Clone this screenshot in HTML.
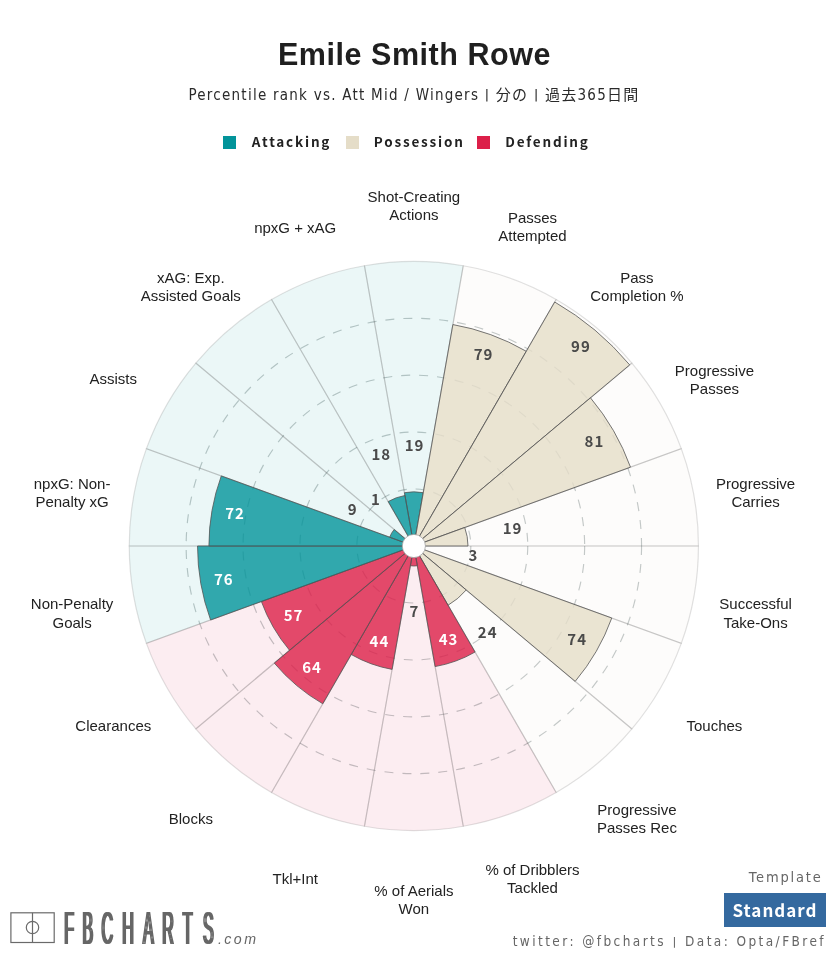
<!DOCTYPE html>
<html lang="en">
<head>
<meta charset="utf-8">
<title>Emile Smith Rowe</title>
<style>
html,body{margin:0;padding:0;background:#fff;}
body{width:831px;height:956px;position:relative;overflow:hidden;font-family:"DejaVu Sans Condensed","Noto Sans CJK JP",sans-serif;color:#222;}
.chart{position:absolute;left:0;top:0;}
.title{position:absolute;left:0;width:829px;top:36px;text-align:center;font:bold 30.5px/36px "Liberation Sans",sans-serif;letter-spacing:0.55px;color:#1f1f1f;white-space:nowrap;}
.sub{position:absolute;left:0;width:828px;top:84.5px;text-align:center;font-size:15px;line-height:20px;letter-spacing:1.25px;color:#2a2a2a;white-space:nowrap;}
.legend{position:absolute;left:0;top:132px;width:831px;height:20px;font-family:"Noto Sans CJK JP","DejaVu Sans Condensed",sans-serif;font-weight:bold;font-size:13.5px;letter-spacing:1.8px;color:#222;}
.legend span.sq{position:absolute;top:3.6px;width:13.2px;height:13.2px;}
.legend span.tx{position:absolute;top:-1.2px;line-height:20px;white-space:nowrap;}
.val text{font:bold 15px "Noto Sans CJK JP","DejaVu Sans Condensed",sans-serif;letter-spacing:1px;}
.cat text{font:15px "Liberation Sans",sans-serif;fill:#222;}
.tmpl{position:absolute;right:8.5px;top:866.8px;font-size:14.5px;letter-spacing:1.8px;color:#666;line-height:20px;white-space:nowrap;}
.std{position:absolute;left:724px;top:893px;width:102px;height:34px;background:#34699f;color:#fff;font-family:"Noto Sans CJK JP","DejaVu Sans Condensed",sans-serif;font-weight:bold;font-size:17px;letter-spacing:1px;line-height:33px;text-align:center;}
.foot{position:absolute;right:5px;top:931px;font-size:13.5px;letter-spacing:2.42px;color:#666;line-height:20px;white-space:nowrap;}
.logo{position:absolute;left:0;top:896px;}
.bar{font-size:0.76em;font-weight:bold;position:relative;top:-1px;padding:0 0.3px;}
</style>
</head>
<body>
<svg class="chart" width="831" height="956" viewBox="0 0 831 956">
<g fill="none" stroke="#a3acac" stroke-opacity="0.68" stroke-width="1.15" stroke-dasharray="9,9">
<path d="M470.85,546.0A57.00,57.00 0 1 1 356.85,546.0A57.00,57.00 0 1 1 470.85,546.0"/>
<path d="M527.75,546.0A113.90,113.90 0 1 1 299.95,546.0A113.90,113.90 0 1 1 527.75,546.0"/>
<path d="M584.65,546.0A170.80,170.80 0 1 1 243.05,546.0A170.80,170.80 0 1 1 584.65,546.0"/>
<path d="M641.55,546.0A227.70,227.70 0 1 1 186.15,546.0A227.70,227.70 0 1 1 641.55,546.0"/>
</g>
<g stroke="#444" stroke-opacity="0.16" stroke-width="1.2">
<path d="M413.85,546.00L364.43,265.72A284.60,284.60 0 0 1 463.27,265.72Z" fill="#02949a" fill-opacity="0.08"/>
<path d="M413.85,546.00L463.27,265.72A284.60,284.60 0 0 1 556.15,299.53Z" fill="#e5ddc8" fill-opacity="0.08"/>
<path d="M413.85,546.00L556.15,299.53A284.60,284.60 0 0 1 631.87,363.06Z" fill="#e5ddc8" fill-opacity="0.08"/>
<path d="M413.85,546.00L631.87,363.06A284.60,284.60 0 0 1 681.29,448.66Z" fill="#e5ddc8" fill-opacity="0.08"/>
<path d="M413.85,546.00L681.29,448.66A284.60,284.60 0 0 1 698.45,546.00Z" fill="#e5ddc8" fill-opacity="0.08"/>
<path d="M413.85,546.00L698.45,546.00A284.60,284.60 0 0 1 681.29,643.34Z" fill="#e5ddc8" fill-opacity="0.08"/>
<path d="M413.85,546.00L681.29,643.34A284.60,284.60 0 0 1 631.87,728.94Z" fill="#e5ddc8" fill-opacity="0.08"/>
<path d="M413.85,546.00L631.87,728.94A284.60,284.60 0 0 1 556.15,792.47Z" fill="#e5ddc8" fill-opacity="0.08"/>
<path d="M413.85,546.00L556.15,792.47A284.60,284.60 0 0 1 463.27,826.28Z" fill="#dc1f49" fill-opacity="0.08"/>
<path d="M413.85,546.00L463.27,826.28A284.60,284.60 0 0 1 364.43,826.28Z" fill="#dc1f49" fill-opacity="0.08"/>
<path d="M413.85,546.00L364.43,826.28A284.60,284.60 0 0 1 271.55,792.47Z" fill="#dc1f49" fill-opacity="0.08"/>
<path d="M413.85,546.00L271.55,792.47A284.60,284.60 0 0 1 195.83,728.94Z" fill="#dc1f49" fill-opacity="0.08"/>
<path d="M413.85,546.00L195.83,728.94A284.60,284.60 0 0 1 146.41,643.34Z" fill="#dc1f49" fill-opacity="0.08"/>
<path d="M413.85,546.00L146.41,643.34A284.60,284.60 0 0 1 129.25,546.00Z" fill="#02949a" fill-opacity="0.08"/>
<path d="M413.85,546.00L129.25,546.00A284.60,284.60 0 0 1 146.41,448.66Z" fill="#02949a" fill-opacity="0.08"/>
<path d="M413.85,546.00L146.41,448.66A284.60,284.60 0 0 1 195.83,363.06Z" fill="#02949a" fill-opacity="0.08"/>
<path d="M413.85,546.00L195.83,363.06A284.60,284.60 0 0 1 271.55,299.53Z" fill="#02949a" fill-opacity="0.08"/>
<path d="M413.85,546.00L271.55,299.53A284.60,284.60 0 0 1 364.43,265.72Z" fill="#02949a" fill-opacity="0.08"/>
</g>
<g stroke="#555" stroke-opacity="0.8" stroke-width="1">
<path d="M413.85,546.00L404.45,492.67A54.16,54.16 0 0 1 423.25,492.67Z" fill="#02949a" fill-opacity="0.8"/>
<path d="M413.85,546.00L452.90,324.56A224.85,224.85 0 0 1 526.28,351.27Z" fill="#e5ddc8" fill-opacity="0.8"/>
<path d="M413.85,546.00L554.73,301.99A281.75,281.75 0 0 1 629.69,364.89Z" fill="#e5ddc8" fill-opacity="0.8"/>
<path d="M413.85,546.00L590.46,397.81A230.54,230.54 0 0 1 630.49,467.15Z" fill="#e5ddc8" fill-opacity="0.8"/>
<path d="M413.85,546.00L464.74,527.48A54.16,54.16 0 0 1 468.00,546.00Z" fill="#e5ddc8" fill-opacity="0.8"/>
<path d="M413.85,546.00L422.49,546.00A8.63,8.63 0 0 1 421.96,548.95Z" fill="#e5ddc8" fill-opacity="0.8"/>
<path d="M413.85,546.00L611.78,618.04A210.63,210.63 0 0 1 575.20,681.39Z" fill="#e5ddc8" fill-opacity="0.8"/>
<path d="M413.85,546.00L466.23,589.95A68.38,68.38 0 0 1 448.04,605.22Z" fill="#e5ddc8" fill-opacity="0.8"/>
<path d="M413.85,546.00L475.07,652.03A122.43,122.43 0 0 1 435.11,666.57Z" fill="#dc1f49" fill-opacity="0.8"/>
<path d="M413.85,546.00L417.33,565.71A20.02,20.02 0 0 1 410.37,565.71Z" fill="#dc1f49" fill-opacity="0.8"/>
<path d="M413.85,546.00L392.10,669.38A125.28,125.28 0 0 1 351.21,654.50Z" fill="#dc1f49" fill-opacity="0.8"/>
<path d="M413.85,546.00L322.76,703.77A182.18,182.18 0 0 1 274.29,663.10Z" fill="#dc1f49" fill-opacity="0.8"/>
<path d="M413.85,546.00L289.55,650.30A162.26,162.26 0 0 1 261.37,601.50Z" fill="#dc1f49" fill-opacity="0.8"/>
<path d="M413.85,546.00L210.58,619.99A216.32,216.32 0 0 1 197.53,546.00Z" fill="#02949a" fill-opacity="0.8"/>
<path d="M413.85,546.00L208.91,546.00A204.94,204.94 0 0 1 221.27,475.91Z" fill="#02949a" fill-opacity="0.8"/>
<path d="M413.85,546.00L389.70,537.21A25.71,25.71 0 0 1 394.16,529.48Z" fill="#02949a" fill-opacity="0.8"/>
<path d="M413.85,546.00L411.59,544.11A2.95,2.95 0 0 1 412.38,543.45Z" fill="#02949a" fill-opacity="0.8"/>
<path d="M413.85,546.00L388.19,501.56A51.31,51.31 0 0 1 404.94,495.47Z" fill="#02949a" fill-opacity="0.8"/>
</g>
<circle cx="413.85" cy="546.0" r="11.6" fill="#fff" stroke="#999" stroke-opacity="0.7" stroke-width="1"/>
<g class="val" text-anchor="middle">
<text x="414.5" y="451.3" fill="#4a4a4a">19</text>
<text x="483.6" y="360.1" fill="#4a4a4a">79</text>
<text x="580.9" y="351.6" fill="#4a4a4a">99</text>
<text x="594.4" y="447.1" fill="#4a4a4a">81</text>
<text x="512.6" y="533.7" fill="#4a4a4a">19</text>
<text x="473.4" y="561.4" fill="#4a4a4a">3</text>
<text x="577.2" y="644.9" fill="#4a4a4a">74</text>
<text x="487.7" y="638.3" fill="#4a4a4a">24</text>
<text x="448.5" y="644.7" fill="#fff">43</text>
<text x="414.5" y="616.5" fill="#4a4a4a">7</text>
<text x="379.4" y="647.3" fill="#fff">44</text>
<text x="312.0" y="673.1" fill="#fff">64</text>
<text x="293.6" y="620.8" fill="#fff">57</text>
<text x="223.8" y="584.6" fill="#fff">76</text>
<text x="235.0" y="519.4" fill="#fff">72</text>
<text x="352.8" y="515.4" fill="#4a4a4a">9</text>
<text x="376.0" y="505.2" fill="#4a4a4a">1</text>
<text x="381.3" y="460.0" fill="#4a4a4a">18</text>
</g>
<g class="cat" text-anchor="middle">
<text x="413.9" y="202.0">Shot-Creating</text><text x="413.9" y="220.2">Actions</text>
<text x="532.5" y="222.9">Passes</text><text x="532.5" y="241.1">Attempted</text>
<text x="636.9" y="283.2">Pass</text><text x="636.9" y="301.4">Completion %</text>
<text x="714.4" y="375.5">Progressive</text><text x="714.4" y="393.7">Passes</text>
<text x="755.6" y="488.7">Progressive</text><text x="755.6" y="506.9">Carries</text>
<text x="755.6" y="609.3">Successful</text><text x="755.6" y="627.5">Take-Ons</text>
<text x="714.4" y="730.9">Touches</text>
<text x="636.9" y="814.8">Progressive</text><text x="636.9" y="833.0">Passes Rec</text>
<text x="532.5" y="875.1">% of Dribblers</text><text x="532.5" y="893.3">Tackled</text>
<text x="413.9" y="896.0">% of Aerials</text><text x="413.9" y="914.2">Won</text>
<text x="295.2" y="884.2">Tkl+Int</text>
<text x="190.8" y="823.9">Blocks</text>
<text x="113.3" y="730.5">Clearances</text>
<text x="72.1" y="609.3">Non-Penalty</text><text x="72.1" y="627.5">Goals</text>
<text x="72.1" y="488.7">npxG: Non-</text><text x="72.1" y="506.9">Penalty xG</text>
<text x="113.3" y="383.6">Assists</text>
<text x="190.8" y="283.2">xAG: Exp.</text><text x="190.8" y="301.4">Assisted Goals</text>
<text x="295.2" y="232.7">npxG + xAG</text>
</g>
</svg>
<div class="title">Emile Smith Rowe</div>
<div class="sub">Percentile rank vs. Att Mid / Wingers <span class="bar">|</span> 分の <span class="bar">|</span> 過去365日間</div>
<div class="legend">
<span class="sq" style="left:223.2px;background:#02949a"></span><span class="tx" style="left:251.8px">Attacking</span>
<span class="sq" style="left:345.9px;background:#e5ddc8"></span><span class="tx" style="left:373.8px">Possession</span>
<span class="sq" style="left:476.7px;background:#dc1f49"></span><span class="tx" style="left:505.2px">Defending</span>
</div>
<div class="tmpl">Template</div>
<div class="std">Standard</div>
<div class="foot">twitter: @fbcharts <span class="bar">|</span> Data: Opta/FBref</div>
<svg class="logo" width="270" height="60" viewBox="0 896 270 60">
<g fill="none" stroke="#6a6a6a" stroke-width="1.2"><rect x="10.9" y="912.8" width="43.3" height="29.7"/><line x1="32.5" y1="912.8" x2="32.5" y2="942.5"/><circle cx="32.5" cy="927.5" r="6.2"/></g>
<defs><filter id="fat" x="-5%" y="-5%" width="110%" height="110%"><feMorphology operator="dilate" radius="2.3 0"/></filter></defs>
<text transform="translate(0,943.5) scale(0.344,1)" x="186.6 239.8 295.3 355.2 415.7 471.5 531.4 590.4" y="0" font-family="Liberation Sans, sans-serif" font-weight="normal" font-size="46.5" fill="#666" filter="url(#fat)">FBCHARTS</text>
<text x="218" y="943.5" font-family="Liberation Sans, sans-serif" font-style="italic" font-size="14.2" fill="#666" letter-spacing="2.4">.com</text>
</svg>
</body>
</html>
